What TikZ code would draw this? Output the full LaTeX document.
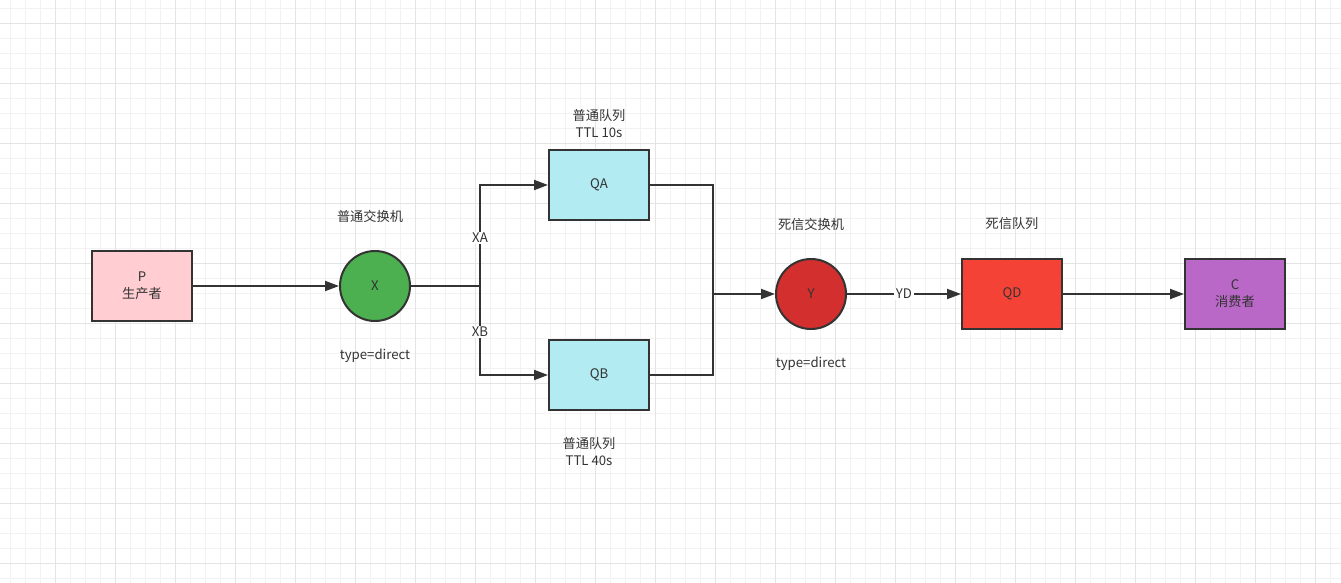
\documentclass[tikz,border=0pt]{standalone}
\usepackage{fontspec}
\setmainfont{Noto Sans CJK SC}
\usetikzlibrary{arrows.meta}
\definecolor{ln}{HTML}{333333}
\definecolor{gminor}{HTML}{F2F2F2}
\definecolor{gmajor}{HTML}{E4E4E4}
\definecolor{pfill}{HTML}{FFCDD2}
\definecolor{xfill}{HTML}{4CAF50}
\definecolor{qfill}{HTML}{B2EBF2}
\definecolor{yfill}{HTML}{D32F2F}
\definecolor{dfill}{HTML}{F44336}
\definecolor{cfill}{HTML}{BA68C8}
\tikzset{
  box/.style={draw=ln, line width=2pt, minimum width=100pt, minimum height=70pt, inner sep=0pt, align=center, text=ln},
  exch/.style={draw=ln, line width=2pt, circle, minimum size=70pt, inner sep=0pt, text=ln},
  txt/.style={text=ln, align=center, inner sep=1pt},
  lbl/.style={text=ln, fill=white, inner sep=1.5pt},
  conn/.style={draw=ln, line width=2pt},
  arr/.style={conn, -{Triangle[length=14pt, width=10pt]}},
}
\begin{document}
\begin{tikzpicture}[x=1pt, y=-1pt, font=\fontsize{13.2}{17}\selectfont]
\useasboundingbox (0,0) rectangle (1341,583);
\fill[white] (0,0) rectangle (1341,583);
% grid
\foreach \i in {0,...,89} { \draw[gminor, line width=1pt] ({10+15*\i},0) -- ({10+15*\i},583); }
\foreach \j in {0,...,38} { \draw[gminor, line width=1pt] (0,{8.33+15*\j}) -- (1341,{8.33+15*\j}); }
\foreach \i in {0,...,22} { \draw[gmajor, line width=1pt] ({55+60*\i},0) -- ({55+60*\i},583); }
\foreach \j in {0,...,9} { \draw[gmajor, line width=1pt] (0,{23.33+60*\j}) -- (1341,{23.33+60*\j}); }

% nodes
\node[box, fill=pfill] (P) at (142,286) {P\\生产者};
\node[exch, fill=xfill] (X) at (375,286) {X};
\node[box, fill=qfill] (QA) at (599,185) {QA};
\node[box, fill=qfill] (QB) at (599,375) {QB};
\node[exch, fill=yfill] (Y) at (811,294) {Y};
\node[box, fill=dfill] (QD) at (1012,294) {QD};
\node[box, fill=cfill] (C) at (1235,294) {C\\消费者};

% texts
\node[txt] (tX) at (370,216) {普通交换机};
\node[txt] (tXt) at (375,356) {type=direct};
\node[txt] (tQA) at (599,124) {普通队列\\TTL 10s};
\node[txt] (tQB) at (589,452) {普通队列\\TTL 40s};
\node[txt] (tY) at (811,224) {死信交换机};
\node[txt] (tYt) at (811,364) {type=direct};
\node[txt] (tQD) at (1012,224) {死信队列};

% connectors
\coordinate (jx) at (480,286);
\coordinate (jy) at (713,294);
\draw[arr] (P) -- (X);
\draw[conn] (X) -- (jx);
\draw[arr] (jx) |- (QA);
\draw[arr] (jx) |- (QB);
\draw[conn] (QA.east) -| (jy);
\draw[conn] (QB.east) -| (jy);
\draw[arr] (jy) -- (Y);
\draw[arr] (Y) -- (QD);
\draw[arr] (QD) -- (C);

% edge labels
\node[lbl] (lXA) at (480,238) {XA};
\node[lbl] (lXB) at (480,332) {XB};
\node[lbl] (lYD) at (904,294) {YD};
\end{tikzpicture}
\end{document}
